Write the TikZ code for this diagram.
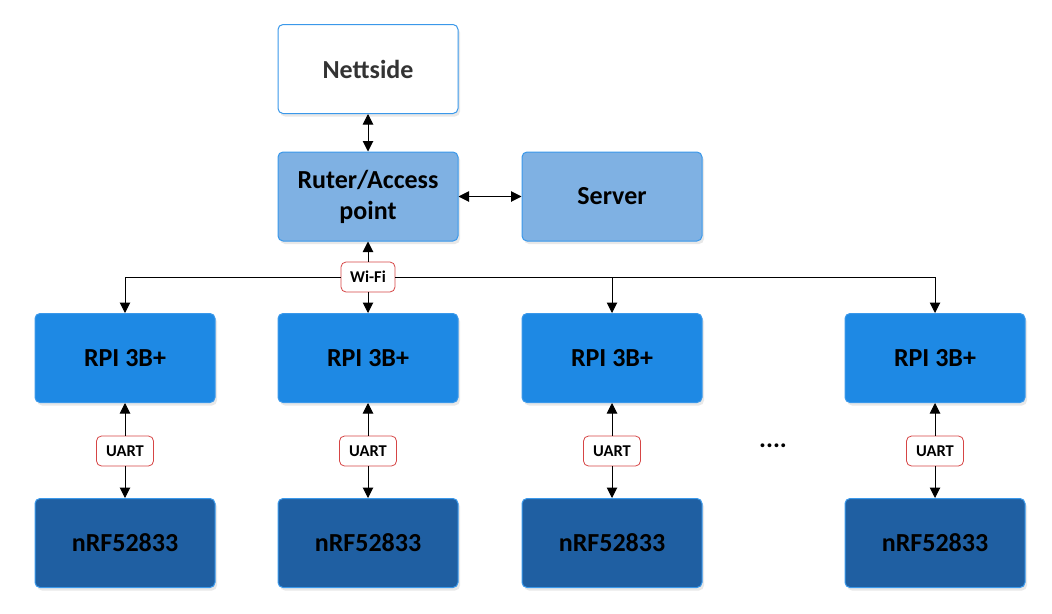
\documentclass[tikz,border=0pt]{standalone}
\usepackage{fontspec}
\setmainfont{Carlito}
\usetikzlibrary{arrows.meta,shadows}
\definecolor{edgeblue}{HTML}{3A98EA}
\definecolor{lightblue}{HTML}{7FB1E3}
\definecolor{midblue}{HTML}{1E89E4}
\definecolor{deepblue}{HTML}{1F5FA2}
\definecolor{tagred}{HTML}{D64545}
\definecolor{textgray}{HTML}{333333}
\tikzset{
	box/.style={draw=edgeblue, line width=1pt, rounded corners=5pt, minimum width=180pt, minimum height=89pt,
		font=\fontsize{26}{31}\selectfont\bfseries, align=center,
		drop shadow={opacity=0.18, shadow xshift=2pt, shadow yshift=-3pt}},
	tag/.style={draw=tagred, fill=white, rounded corners=5pt, line width=0.8pt, inner sep=0pt,
		minimum height=30pt, font=\fontsize{16.5}{18}\selectfont\bfseries},
	tip/.style={-{Triangle[length=10.5pt,width=10.5pt]}, line width=1pt},
	link/.style={{Triangle[length=10.5pt,width=10.5pt]}-{Triangle[length=10.5pt,width=10.5pt]}, line width=1pt}
}
\begin{document}
\begin{tikzpicture}[x=1pt, y=-1pt]
	\useasboundingbox (0, 0) rectangle (1052, 613);
	% top part
	\node[box, fill=white, text=textgray] (web) at (368, 69) {Nettside};
	\node[box, fill=lightblue] (router) at (368, 196.5) {Ruter/Access\\point};
	\node[box, fill=lightblue] (server) at (612, 196.5) {Server};
	\draw[link] (web) -- (router);
	\draw[link] (router) -- (server);
	% Raspberry Pi row
	\node[box, fill=midblue] (rpi1) at (125, 358) {RPI 3B+};
	\node[box, fill=midblue] (rpi2) at (368, 358) {RPI 3B+};
	\node[box, fill=midblue] (rpi3) at (612, 358) {RPI 3B+};
	\node[box, fill=midblue] (rpi4) at (935, 358) {RPI 3B+};
	% nRF row
	\node[box, fill=deepblue] (nrf1) at (125, 543) {nRF52833};
	\node[box, fill=deepblue] (nrf2) at (368, 543) {nRF52833};
	\node[box, fill=deepblue] (nrf3) at (612, 543) {nRF52833};
	\node[box, fill=deepblue] (nrf4) at (935, 543) {nRF52833};
	% wifi bus
	\node[tag, minimum width=54pt] (wifi) at (368, 277) {Wi-Fi};
	\coordinate (bus1) at (125, 277);
	\coordinate (bus3) at (612, 277);
	\coordinate (bus4) at (935, 277);
	\draw[line width=1pt] (bus1) -- (wifi.west);
	\draw[line width=1pt] (wifi.east) -- (bus4);
	\draw[tip] (wifi) -- (router);
	\draw[tip] (bus1) -- (rpi1);
	\draw[tip] (wifi) -- (rpi2);
	\draw[tip] (bus3) -- (rpi3);
	\draw[tip] (bus4) -- (rpi4);
	% uart links
	\node[tag, minimum width=57pt] (uart1) at (125, 451) {UART};
	\node[tag, minimum width=57pt] (uart2) at (368, 451) {UART};
	\node[tag, minimum width=57pt] (uart3) at (612, 451) {UART};
	\node[tag, minimum width=57pt] (uart4) at (935, 451) {UART};
	\draw[tip] (uart1) -- (rpi1);
	\draw[tip] (uart1) -- (nrf1);
	\draw[tip] (uart2) -- (rpi2);
	\draw[tip] (uart2) -- (nrf2);
	\draw[tip] (uart3) -- (rpi3);
	\draw[tip] (uart3) -- (nrf3);
	\draw[tip] (uart4) -- (rpi4);
	\draw[tip] (uart4) -- (nrf4);
	\node[font=\fontsize{26}{26}\selectfont\bfseries] (more) at (773, 446) {....};
\end{tikzpicture}
\end{document}
